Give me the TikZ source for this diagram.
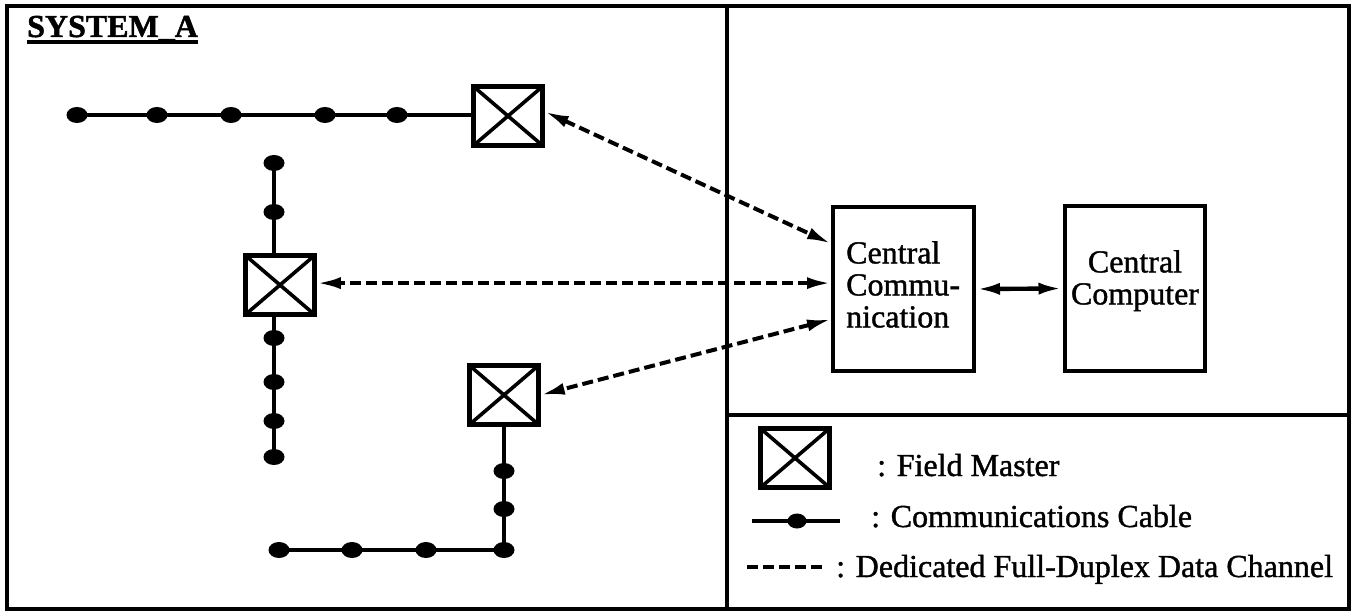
\documentclass[tikz,border=0pt]{standalone}
\usepackage{fontspec}
\setmainfont{Liberation Serif}
\newfontfamily\scanfont{Liberation Serif}[FakeBold=1.2]
\newfontfamily\scanbold{Liberation Serif Bold}[FakeBold=1.5]
\usetikzlibrary{arrows.meta,shapes.geometric,calc}
\begin{document}
\begin{tikzpicture}[x=1pt,y=-1pt,
  frame/.style={line width=3.2pt},
  dot/.style={ellipse, fill=black, inner sep=0pt, minimum width=21pt, minimum height=16pt},
  cable/.style={line width=3.4pt},
  fm/.style={draw, line width=4.6pt, minimum width=69pt, minimum height=59pt, inner sep=0pt,
    path picture={\draw[line width=3.6pt] (path picture bounding box.north west) -- (path picture bounding box.south east)
      (path picture bounding box.north east) -- (path picture bounding box.south west);}},
  box/.style={draw, line width=4pt, inner sep=0pt},
  txt/.style={inner sep=0pt, font=\fontsize{32}{32}\scanfont},
  duplex/.style={line width=4pt, dash pattern=on 11pt off 5pt, {Latex[length=24pt,width=12pt]}-{Latex[length=24pt,width=12pt]}},
  solidlink/.style={line width=4.4pt, {Latex[length=24pt,width=12pt]}-{Latex[length=24pt,width=12pt]}},
]
\useasboundingbox (0,0) rectangle (1356,612);
% frame
\draw[frame] (7,6) rectangle (1349,609);
\draw[frame] (727,6) -- (727,609);
\draw[frame] (727,415) -- (1349,415);
% title
\node[inner sep=0pt, font=\fontsize{32}{32}\scanbold, anchor=base west] (title) at (27,37) {SYSTEM\_A};
\draw[line width=3.4pt] ([yshift=-5pt]title.base west) -- ([yshift=-5pt]title.base east);
% field masters
\node[fm] (fm1) at (508,116) {};
\node[fm] (fm2) at (280,285) {};
\node[fm] (fm3) at (504,395) {};
% central boxes
\node[box, minimum width=141pt, minimum height=164pt] (cc) at (903.5,289) {};
\node[box, minimum width=140pt, minimum height=164pt] (comp) at (1134.5,288.5) {};
\node[txt, align=left, anchor=north west] (cctext) at (846,241) {Central\\Commu-\\nication};
\node[txt, align=center, anchor=north] (comptext) at (1135,250) {Central\\Computer};
% top cable
\node[dot] (a1) at (77,115) {};
\node[dot] (a2) at (157,115) {};
\node[dot] (a3) at (231,115) {};
\node[dot] (a4) at (325,115) {};
\node[dot] (a5) at (397,115) {};
\draw[cable] (a1.center) -- (a1.center -| fm1.west);
% left vertical cable
\node[dot] (b1) at (274,163) {};
\node[dot] (b2) at (274,212) {};
\node[dot] (b3) at (274,338) {};
\node[dot] (b4) at (274,382) {};
\node[dot] (b5) at (274,421) {};
\node[dot] (b6) at (274,457) {};
\draw[cable] (b1.center) -- (b1.center |- fm2.north);
\draw[cable] (b6.center) -- (b6.center |- fm2.south);
% bottom cable
\node[dot] (c1) at (504,471) {};
\node[dot] (c2) at (504,509) {};
\node[dot] (c3) at (504,550) {};
\node[dot] (c4) at (426,550) {};
\node[dot] (c5) at (352,550) {};
\node[dot] (c6) at (279,550) {};
\draw[cable] (fm3.south) -- (c3.center) -- (c6.center);
% data channels
\draw[duplex] ($(fm1.north east)!0.43!(fm1.south east)$) -- ($(cc.north west)!0.23!(cc.south west)$);
\coordinate (cc2) at ($(cc.north west)!0.465!(cc.south west)$);
\draw[duplex] (cc2) -- (cc2 -| fm2.east);
\draw[duplex] ($(cc.north west)!0.68!(cc.south west)$) -- (fm3.east);
\draw[solidlink] (cc.east) -- (comp.west);
% legend
\node[fm] (lfm) at (795,458) {};
\node[txt, anchor=base west] (lfmtext) at (877,476) {: Field Master};
\coordinate (lcL) at (752,521);
\coordinate (lcR) at (840,521);
\draw[cable] (lcL) -- (lcR);
\node[dot, minimum width=19pt, minimum height=15pt] (ldot) at (797,521) {};
\node[txt, anchor=base west] (lctext) at (871,527) {: Communications Cable};
\coordinate (ldL) at (747,567);
\coordinate (ldR) at (823,567);
\draw[line width=4pt, dash pattern=on 11pt off 5pt] (ldL) -- (ldR);
\node[txt, anchor=base west] (ldtext) at (836,577) {: Dedicated Full-Duplex Data Channel};
\end{tikzpicture}
\end{document}
